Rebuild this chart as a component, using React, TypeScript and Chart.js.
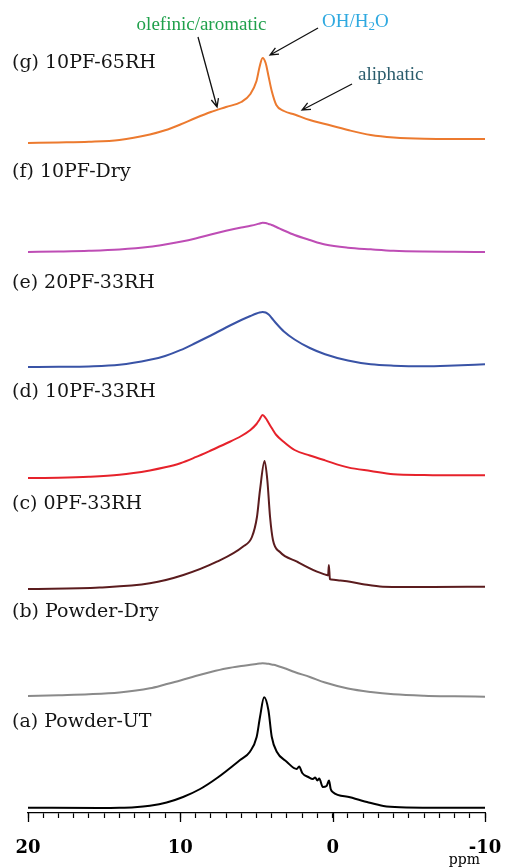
import React, { useEffect, useRef } from 'react';
import { Chart, registerables } from 'chart.js';

Chart.register(...registerables);

// Shared chemical-shift grid (ppm) for the smooth spectra
const PPM = [20, 18, 16, 14, 12, 11, 10, 9, 8, 7, 6, 5.4, 5.0, 4.8, 4.6, 4.4, 4.2, 4.0, 3.7, 3.2, 2.5, 1.5, 0.5, -1, -2.5, -4, -6, -8, -10];

// Intensities above each trace's baseline
const G_10PF_65RH = [0, 0.5, 1.2, 3, 8.5, 12.7, 18.5, 25, 31, 36, 41, 49, 62, 76, 85, 80, 66, 52, 38, 32, 28.5, 23, 19, 13, 8, 5.5, 4.2, 4, 4];
const F_10PF_DRY = [0, 0.5, 1.2, 2.5, 5.2, 7.5, 10.2, 13.5, 17.5, 21.2, 24.5, 26.2, 27.6, 28.5, 29.3, 29, 28, 27, 25, 21.5, 17, 12, 7.5, 4.3, 2.7, 1.3, 0.5, 0.2, 0];
const E_20PF_33RH = [0, 0.2, 0.6, 2.2, 7.2, 11, 16.8, 24, 31.5, 39.5, 47, 51, 53.5, 54.5, 55, 54.5, 52.5, 49, 43.5, 35.5, 27.5, 19, 12.8, 6.5, 2.7, 1.3, 0.7, 1.5, 2.7];
const D_10PF_33RH = [0, 0.3, 1.2, 3.2, 7.6, 10.7, 14.8, 20.8, 27.5, 34.5, 42, 48, 54, 58.5, 63, 60, 55, 50, 43, 36, 28, 22.5, 17.6, 10.6, 7, 3.8, 3, 2.7, 2.7];
const B_POWDER_DRY = [0, 0.8, 1.7, 3.5, 7.7, 11.5, 15.5, 20, 24, 27.5, 30, 31.2, 32, 32.4, 32.7, 32.6, 32.2, 31.5, 30.5, 28, 24, 19, 13.5, 7.5, 4, 1.7, 0.3, -0.3, -0.7];

// Spectra with sharp features have their own grids
const PPM_C = [20, 15.3, 12, 9.8, 7.6, 5.9, 5.3, 4.97, 4.77, 4.47, 4.29, 4.11, 3.92, 3.46, 2.34, 1.03, 0.4, 0.3, 0.25, 0.18, 0.1, -0.5, -1.14, -2, -3.3, -6.6, -10];
const C_0PF_33RH = [0, 1.5, 5.7, 14, 27.3, 42.3, 52, 72, 99, 128, 109, 72, 49, 37, 27.3, 17.3, 14, 13.5, 24, 10, 9.5, 8.5, 7.3, 4.8, 2.3, 2, 2.3];

const PPM_A = [20, 15.3, 14, 13, 12, 10.9, 9.82, 8.7, 7.59, 6.08, 5.43, 4.99, 4.77, 4.5, 4.22, 4.0, 3.67, 3.02, 2.36, 2.2, 2.0, 1.6, 1.3, 1.15, 1.0, 0.88, 0.65, 0.4, 0.24, 0.13, 0, -1.14, -2.25, -3.33, -4.42, -6.6, -10];
const A_POWDER_UT = [0.3, 0, 0.2, 0.8, 2.3, 5.5, 11, 19, 30, 48, 56.3, 71, 91, 110.7, 98, 71.3, 56.3, 46.3, 39, 41.5, 35, 31, 29, 30.5, 27.5, 29.5, 21, 22, 27.5, 19, 16, 10.7, 6, 2, 0.7, 0.3, 0.3];

const SERIES_NAMES = ['(g) 10PF-65RH', '(f) 10PF-Dry', '(e) 20PF-33RH', '(d) 10PF-33RH', '(c) 0PF-33RH', '(b) Powder-Dry', '(a) Powder-UT'];
const SERIES_PPM = [PPM, PPM, PPM, PPM, PPM_C, PPM, PPM_A];
const SERIES_VALUES = [G_10PF_65RH, F_10PF_DRY, E_20PF_33RH, D_10PF_33RH, C_0PF_33RH, B_POWDER_DRY, A_POWDER_UT];
const BASELINES = [670, 561, 446, 335, 224, 117, 5];
const LABEL_Y = [750, 641, 530, 421, 309, 201, 91];
const COLORS = ['#EC7A2F', '#BE4DB5', '#3953A6', '#E6222B', '#5B1C1E', '#8A8A8A', '#000000'];

const MAJOR_TICKS = [20, 10, 0, -10];

// Peak assignment annotations (ppm, y units)
const ANNOT_OLEFINIC = { text: 'olefinic/aromatic', ppm: 8.61, y: 788, from: [8.84, 776], to: [7.59, 706] };
const ANNOT_OH = { text: ['OH/H', '2', 'O'], ppm: 0.7, y: 791, from: [0.96, 785], to: [4.11, 758] };
const ANNOT_ALIPHATIC = { text: 'aliphatic', ppm: -1.66, y: 738, from: [-1.27, 729], to: [2.01, 703] };

function drawArrow(ctx: CanvasRenderingContext2D, x1: number, y1: number, x2: number, y2: number) {
  ctx.beginPath();
  ctx.moveTo(x1, y1);
  ctx.lineTo(x2, y2);
  const a = Math.atan2(y2 - y1, x2 - x1);
  const L = 9;
  const s = 0.42;
  ctx.moveTo(x2 - L * Math.cos(a - s), y2 - L * Math.sin(a - s));
  ctx.lineTo(x2, y2);
  ctx.lineTo(x2 - L * Math.cos(a + s), y2 - L * Math.sin(a + s));
  ctx.stroke();
}

const overlayPlugin = {
  id: 'overlay',
  afterDraw(chart: any) {
    const { ctx, chartArea } = chart;
    const xs = chart.scales.x;
    const ys = chart.scales.y;
    ctx.save();
    // longer major ticks
    ctx.strokeStyle = '#000';
    ctx.lineWidth = 1.3;
    MAJOR_TICKS.forEach((v) => {
      const px = Math.round(xs.getPixelForValue(v)) + 0.5;
      ctx.beginPath();
      ctx.moveTo(px, chartArea.bottom);
      ctx.lineTo(px, chartArea.bottom + 9);
      ctx.stroke();
    });
    // ppm unit
    ctx.fillStyle = '#000';
    ctx.font = '14px "DejaVu Serif"';
    ctx.textAlign = 'right';
    ctx.textBaseline = 'middle';
    ctx.fillText('ppm', xs.right - 5, xs.bottom - 8);

    // series labels
    ctx.font = '19px "DejaVu Serif"';
    ctx.fillStyle = '#151515';
    ctx.textAlign = 'left';
    SERIES_NAMES.forEach((name, i) => {
      ctx.fillText(name, chartArea.left - 16, ys.getPixelForValue(LABEL_Y[i]));
    });

    // annotations
    ctx.font = '19px "Liberation Serif"';
    ctx.textBaseline = 'middle';
    ctx.fillStyle = '#1FA04B';
    ctx.textAlign = 'center';
    ctx.fillText(ANNOT_OLEFINIC.text, xs.getPixelForValue(ANNOT_OLEFINIC.ppm), ys.getPixelForValue(ANNOT_OLEFINIC.y));

    ctx.fillStyle = '#2FA9E0';
    ctx.textAlign = 'left';
    let tx = xs.getPixelForValue(ANNOT_OH.ppm);
    const ty = ys.getPixelForValue(ANNOT_OH.y);
    ctx.fillText(ANNOT_OH.text[0], tx, ty);
    tx += ctx.measureText(ANNOT_OH.text[0]).width;
    ctx.font = '13px "Liberation Serif"';
    ctx.fillText(ANNOT_OH.text[1], tx, ty + 5);
    tx += ctx.measureText(ANNOT_OH.text[1]).width;
    ctx.font = '19px "Liberation Serif"';
    ctx.fillText(ANNOT_OH.text[2], tx, ty);

    ctx.fillStyle = '#2A5C6C';
    ctx.fillText(ANNOT_ALIPHATIC.text, xs.getPixelForValue(ANNOT_ALIPHATIC.ppm), ys.getPixelForValue(ANNOT_ALIPHATIC.y));

    ctx.strokeStyle = '#111';
    ctx.lineWidth = 1.3;
    [ANNOT_OLEFINIC, ANNOT_OH, ANNOT_ALIPHATIC].forEach((a) => {
      drawArrow(
        ctx,
        xs.getPixelForValue(a.from[0]),
        ys.getPixelForValue(a.from[1]),
        xs.getPixelForValue(a.to[0]),
        ys.getPixelForValue(a.to[1])
      );
    });
    ctx.restore();
  },
};

export default function App() {
  const ref = useRef<HTMLCanvasElement | null>(null);
  useEffect(() => {
    document.body.style.margin = '0';
    const canvas = ref.current;
    if (!canvas) return;
    const datasets = SERIES_NAMES.map((name, i) => ({
      label: name,
      data: SERIES_PPM[i].map((p, j) => ({ x: p, y: BASELINES[i] + SERIES_VALUES[i][j] })),
      borderColor: COLORS[i],
      borderWidth: 2,
      pointRadius: 0,
      fill: false,
      cubicInterpolationMode: 'monotone' as const,
    }));
    const chart = new Chart(canvas, {
      type: 'line',
      data: { datasets },
      options: {
        animation: false,
        responsive: false,
        devicePixelRatio: 1,
        layout: { padding: { left: 28, right: 21, top: 0, bottom: 0 } },
        plugins: { legend: { display: false }, tooltip: { enabled: false } },
        scales: {
          x: {
            type: 'linear',
            min: -10,
            max: 20,
            reverse: true,
            afterFit: (scale: any) => {
              scale.height = 55;
              scale.paddingLeft = 0;
              scale.paddingRight = 0;
            },
            border: { display: true, color: '#000', width: 1.3 },
            grid: { display: true, drawOnChartArea: false, drawTicks: true, tickLength: 5, tickColor: '#000', tickWidth: 1.2 },
            ticks: {
              stepSize: 1,
              autoSkip: false,
              maxRotation: 0,
              padding: 20,
              color: '#000',
              font: { family: '"DejaVu Serif"', size: 18, weight: 'bold' },
              callback: (v: any) => {
                const n = Math.round(Number(v));
                return MAJOR_TICKS.includes(n) && Math.abs(Number(v) - n) < 1e-6 ? String(n) : '';
              },
            },
          },
          y: { type: 'linear', min: 0, max: 813, display: false },
        },
      },
      plugins: [overlayPlugin],
    });
    return () => chart.destroy();
  }, []);
  return (
    <div style={{ width: 506, height: 868, position: 'relative', background: '#fff' }}>
      <canvas ref={ref} width={506} height={868} style={{ display: 'block' }} />
    </div>
  );
}
